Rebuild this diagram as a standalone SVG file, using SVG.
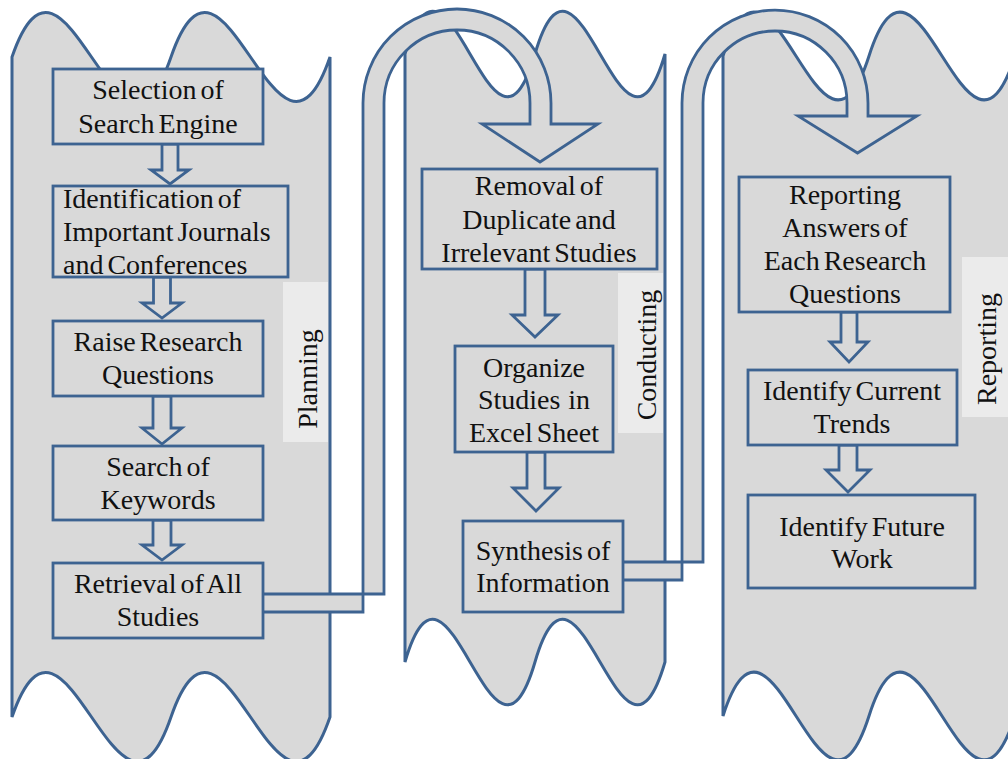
<svg xmlns="http://www.w3.org/2000/svg" width="1008" height="759" viewBox="0 0 1008 759">
<style>
.panel{fill:#d9d9d9;stroke:#3d6391;stroke-width:3}
.box{fill:#d9d9d9;stroke:#3d6391;stroke-width:2.8}
.arr{fill:#d9d9d9;stroke:#3d6391;stroke-width:2.8;stroke-linejoin:miter}
.tag{fill:#ebebeb}
text{font-family:"Liberation Serif","Times New Roman",serif;font-size:28px;fill:#111;word-spacing:-3px}
.c{text-anchor:middle}
</style>
<rect width="1008" height="759" fill="#fff"/>

<!-- phase panels (double-wave banners) -->
<g id="phase-planning">
  <path class="panel" d="M12,57 C65,-97 118,211 171,57 C224,-97 277,211 330,57 L330,717 C277,871 224,563 171,717 C118,871 65,563 12,717 Z"/>
  <rect class="tag" x="283" y="282" width="45" height="160"/>
  <text class="c" transform="translate(317,379) rotate(-90)">Planning</text>
</g>
<g id="phase-conducting">
  <path class="panel" d="M405,54 C448.3,-94 491.7,202 535,54 C578.3,-94 621.7,202 665,54 L665,662 C621.7,810 578.3,514 535,662 C491.7,810 448.3,514 405,662 Z"/>
  <rect class="tag" x="618" y="273" width="45" height="160"/>
  <text class="c" transform="translate(656,355) rotate(-90)">Conducting</text>
</g>
<g id="phase-reporting">
  <path class="panel" d="M723,56 C771.7,-96 820.3,208 869,56 C917.7,-96 966.3,208 1015,56 L1015,716 C966.3,868 917.7,564 869,716 C820.3,868 771.7,564 723,716 Z"/>
  <rect class="tag" x="962" y="257" width="46" height="160"/>
  <text class="c" transform="translate(996,349) rotate(-90)">Reporting</text>
</g>

<!-- connectors: U-turn arrows between phases and block arrows between steps -->
<g id="connectors">
  <path class="arr" d="M258,612 L363,612 L363,103 A94,94 0 0 1 551,103 L551,124 L598,124 L540,162 L482,124 L530,124 L530,103 A73,73 0 0 0 384,103 L384,594 L258,594 Z"/>
  <path class="arr" d="M618,580 L682,580 L682,103 A93,93 0 0 1 868,103 L868,116 L917,116 L857.5,153 L798,116 L847,116 L847,103 A72,72 0 0 0 703,103 L703,562 L618,562 Z"/>

  <polygon class="arr" points="162,144 178,144 178,170 189,170 170,184 151,170 162,170"/>
  <polygon class="arr" points="153.5,277 170.5,277 170.5,303 182,303 162,318 142,303 153.5,303"/>
  <polygon class="arr" points="153,396 171,396 171,428 182,428 162,444 142,428 153,428"/>
  <polygon class="arr" points="153,520 171,520 171,545 182,545 162,560 142,545 153,545"/>

  <polygon class="arr" points="525,269 545,269 545,315 558,315 535,337 512,315 525,315"/>
  <polygon class="arr" points="527,452 545,452 545,488 559,488 536,511 513,488 527,488"/>

  <polygon class="arr" points="841,312 857,312 857,342 868,342 849,362 830,342 841,342"/>
  <polygon class="arr" points="839,445 857,445 857,470 870,470 848,492 826,470 839,470"/>
</g>

<!-- planning steps -->
<g id="selection-search-engine">
  <rect class="box" x="53" y="69" width="210" height="75"/>
  <text class="c" x="158" y="99">Selection of</text>
  <text class="c" x="158" y="133">Search Engine</text>
</g>
<g id="identification-journals">
  <rect class="box" x="53" y="186" width="235" height="91"/>
  <text x="63" y="208">Identification of</text>
  <text x="63" y="241">Important Journals</text>
  <text x="63" y="274">and Conferences</text>
</g>
<g id="raise-research-questions">
  <rect class="box" x="53" y="321" width="210" height="75"/>
  <text class="c" x="158" y="351">Raise Research</text>
  <text class="c" x="158" y="384">Questions</text>
</g>
<g id="search-keywords">
  <rect class="box" x="53" y="446" width="210" height="74"/>
  <text class="c" x="158" y="476">Search of</text>
  <text class="c" x="158" y="509">Keywords</text>
</g>
<g id="retrieval-studies">
  <rect class="box" x="53" y="563" width="210" height="75"/>
  <text class="c" x="158" y="593">Retrieval of All</text>
  <text class="c" x="158" y="626">Studies</text>
</g>

<!-- conducting steps -->
<g id="removal-duplicates">
  <rect class="box" x="422" y="169" width="235" height="100"/>
  <text class="c" x="539" y="195">Removal of</text>
  <text class="c" x="539" y="229">Duplicate and</text>
  <text class="c" x="539" y="262">Irrelevant Studies</text>
</g>
<g id="organize-excel">
  <rect class="box" x="455" y="346" width="158" height="106"/>
  <text class="c" x="534" y="377">Organize</text>
  <text class="c" x="534" y="409" style="white-space:pre">Studies  in</text>
  <text class="c" x="534" y="442">Excel Sheet</text>
</g>
<g id="synthesis-information">
  <rect class="box" x="463" y="521" width="160" height="91"/>
  <text class="c" x="543" y="560">Synthesis of</text>
  <text class="c" x="543" y="592">Information</text>
</g>

<!-- reporting steps -->
<g id="reporting-answers">
  <rect class="box" x="739" y="177" width="211" height="135"/>
  <text class="c" x="845" y="204">Reporting</text>
  <text class="c" x="845" y="237">Answers of</text>
  <text class="c" x="845" y="270">Each Research</text>
  <text class="c" x="845" y="303">Questions</text>
</g>
<g id="identify-current-trends">
  <rect class="box" x="748" y="370" width="209" height="75"/>
  <text class="c" x="852" y="400">Identify Current</text>
  <text class="c" x="852" y="433">Trends</text>
</g>
<g id="identify-future-work">
  <rect class="box" x="748" y="495" width="227" height="93"/>
  <text class="c" x="862" y="536">Identify Future</text>
  <text class="c" x="862" y="568">Work</text>
</g>
</svg>
